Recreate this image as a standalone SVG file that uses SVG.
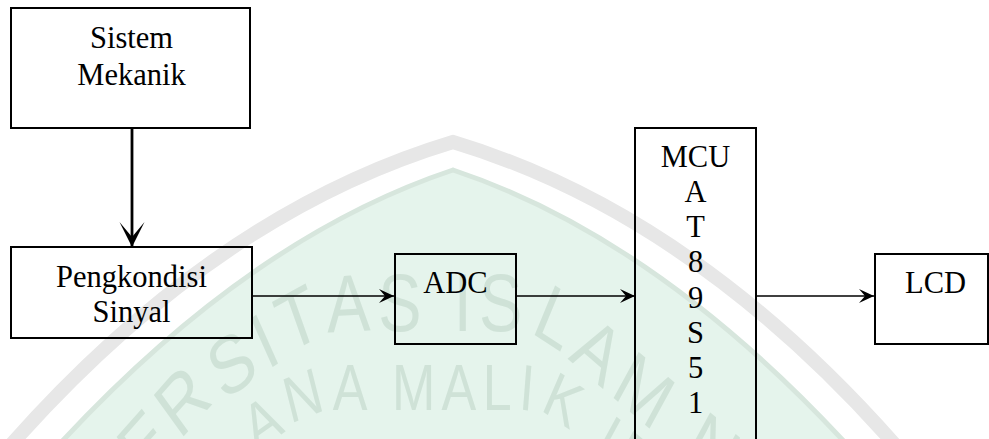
<svg xmlns="http://www.w3.org/2000/svg" width="989" height="439" viewBox="0 0 989 439">
<style>
.box{fill:none;stroke:#000;stroke-width:2}
.lbl{font-family:"Liberation Serif","Times New Roman",serif;font-size:30.5px;fill:#000;text-anchor:middle}
.wm{font-family:"Liberation Sans",Arial,sans-serif;fill:#cfe2d7}
.conn{stroke:#000;stroke-width:1.5;fill:none}
.thick{stroke:#000;stroke-width:2.8;fill:none}
</style>
<defs>
<marker id="ah" markerUnits="userSpaceOnUse" markerWidth="17" markerHeight="16" viewBox="-16 -8 17 16" refX="0" refY="0" orient="auto"><path d="M0,0 L-15,-7 L-9,0 L-15,7 Z" fill="#000"/></marker>
<marker id="ahBig" markerUnits="userSpaceOnUse" markerWidth="27" markerHeight="26" viewBox="-26 -13 27 26" refX="0" refY="0" orient="auto"><path d="M0,0 L-25,-12.5 L-10,0 L-25,12.5 Z" fill="#000"/></marker>
<path id="wmOuter" d="M 0,643 L 250,418 L 375,348 Q 405,331 450,331 L 631.25,331 Q 668.75,331 700,352.25 L 1000,556.25"/>
<path id="wmInner" d="M 0,849 L 340,441 L 375,421.4 Q 395,410 431.25,410 L 650,410 Q 681.25,410 706.25,427 L 1006.25,631"/>
</defs>
<rect width="989" height="439" fill="#fff"/>
<g id="watermark">
<path d="M 45,460 Q 243,240 453,170 Q 663,240 861,460 L 861,520 L 45,520 Z" fill="#e5f4ec"/>
<path d="M 45,460 Q 243,240 453,170 Q 663,240 861,460" fill="none" stroke="#d7e6dd" stroke-width="5"/>
<path d="M -4,462 Q 207,216 453,142 Q 699,216 910,462" fill="none" stroke="#e7e7e7" stroke-width="14"/>
<text class="wm" font-size="81" letter-spacing="9" transform="scale(0.8,1)"><textPath href="#wmOuter" startOffset="10">UNIVERSITAS ISLAM NEGERI</textPath></text>
<text class="wm" font-size="65" letter-spacing="8" transform="scale(0.8,1)"><textPath href="#wmInner" startOffset="295">MAULANA MALIK IBRAHIM</textPath></text>
</g>
<g id="connectors">
<line class="thick" x1="132" y1="128" x2="132" y2="247" marker-end="url(#ahBig)"/>
<line class="conn" x1="252" y1="296" x2="394" y2="296" marker-end="url(#ah)"/>
<line class="conn" x1="516" y1="296" x2="635" y2="296" marker-end="url(#ah)"/>
<line class="conn" x1="756" y1="296" x2="874" y2="296" marker-end="url(#ah)"/>
</g>
<g id="n-sistem">
<rect class="box" x="11" y="8" width="239" height="120"/>
<text class="lbl" x="131.5" y="48">Sistem</text>
<text class="lbl" x="131.5" y="85">Mekanik</text>
</g>
<g id="n-pengkondisi">
<rect class="box" x="11" y="247" width="241" height="91"/>
<text class="lbl" x="131.5" y="287">Pengkondisi</text>
<text class="lbl" x="131.5" y="322">Sinyal</text>
</g>
<g id="n-adc">
<rect class="box" x="395" y="254" width="121" height="90"/>
<text class="lbl" x="455.5" y="293">ADC</text>
</g>
<g id="n-mcu">
<rect class="box" x="635" y="128" width="121" height="330"/>
<text class="lbl" x="695.5" y="167">MCU</text>
<text class="lbl" x="695.5" y="202">A</text>
<text class="lbl" x="695.5" y="237">T</text>
<text class="lbl" x="695.5" y="272">8</text>
<text class="lbl" x="695.5" y="307.5">9</text>
<text class="lbl" x="695.5" y="342.5">S</text>
<text class="lbl" x="695.5" y="377.5">5</text>
<text class="lbl" x="695.5" y="413">1</text>
</g>
<g id="n-lcd">
<rect class="box" x="875" y="254" width="113" height="90"/>
<text class="lbl" x="935.5" y="293">LCD</text>
</g>
</svg>
